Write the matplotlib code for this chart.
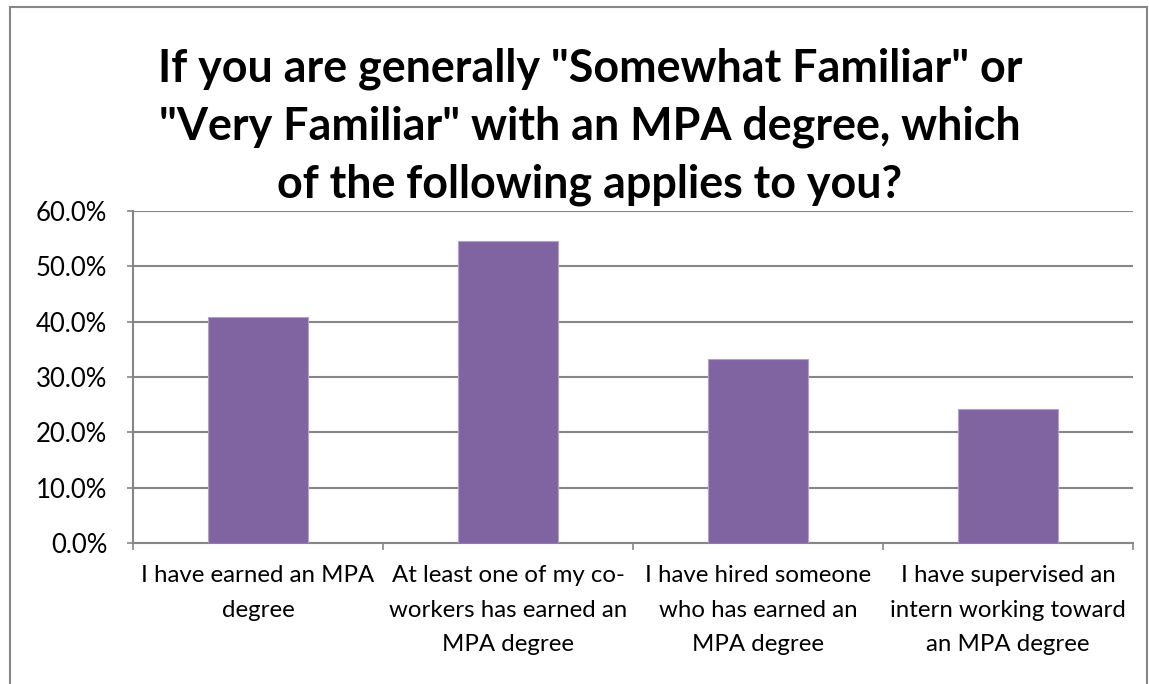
import matplotlib
matplotlib.use("Agg")
import matplotlib.pyplot as plt
from matplotlib.patches import Rectangle

categories = ["I have earned an MPA\ndegree",
              "At least one of my co-\nworkers has earned an\nMPA degree",
              "I have hired someone\nwho has earned an\nMPA degree",
              "I have supervised an\nintern working toward\nan MPA degree"]
values = [40.9, 54.5, 33.3, 24.2]
yticks = [0, 10, 20, 30, 40, 50, 60]
ytick_labels = ["0.0%", "10.0%", "20.0%", "30.0%", "40.0%", "50.0%", "60.0%"]
title_lines = ['If you are generally "Somewhat Familiar" or',
               '"Very Familiar" with an MPA degree, which',
               'of the following applies to you?']

plt.rcParams['font.family'] = ['Lato', 'DejaVu Sans']

W, H = 1149, 684
fig = plt.figure(figsize=(W / 100, H / 100), dpi=100)
fig.patches.append(Rectangle((10 / W, -0.01), 1137 / W, 1 - 7 / H + 0.01, transform=fig.transFigure,
                             fill=False, edgecolor="#868686", linewidth=1.5))
ax = fig.add_axes([133 / W, (H - 543) / H, 1000 / W, 332 / H])
x = list(range(len(categories)))
ax.bar(x, values, width=0.4, color="#8064a2", edgecolor="#b3a2c7", linewidth=0.8, zorder=3)
ax.set_xlim(-0.5, 3.5)
ax.set_ylim(0, 60)
ax.set_yticks(yticks)
ax.set_yticklabels(ytick_labels, fontsize=18.5)
ax.set_xticks([-0.5, 0.5, 1.5, 2.5, 3.5])
ax.set_xticklabels([])
ax.set_xticks(x, minor=True)
ax.set_xticklabels(categories, minor=True, fontsize=17.3, linespacing=1.8, va="top")
ax.tick_params(axis="x", which="minor", length=0, pad=16)
ax.tick_params(axis="x", which="major", length=5, color="#868686", width=1.2)
ax.tick_params(axis="y", length=4.5, color="#868686", width=1.2, pad=14)
ax.yaxis.grid(True, color="#868686", linewidth=1.5, zorder=0)
for s in ["top", "right"]:
    ax.spines[s].set_visible(False)
for s in ["left", "bottom"]:
    ax.spines[s].set_color("#868686")
    ax.spines[s].set_linewidth(1.5)
for line, yb in zip(title_lines, [82, 140, 198]):
    fig.text(590 / W, 1 - yb / H, line, ha="center", va="baseline", fontsize=32.3, fontweight="bold")
fig.savefig("out.png", dpi=100)
